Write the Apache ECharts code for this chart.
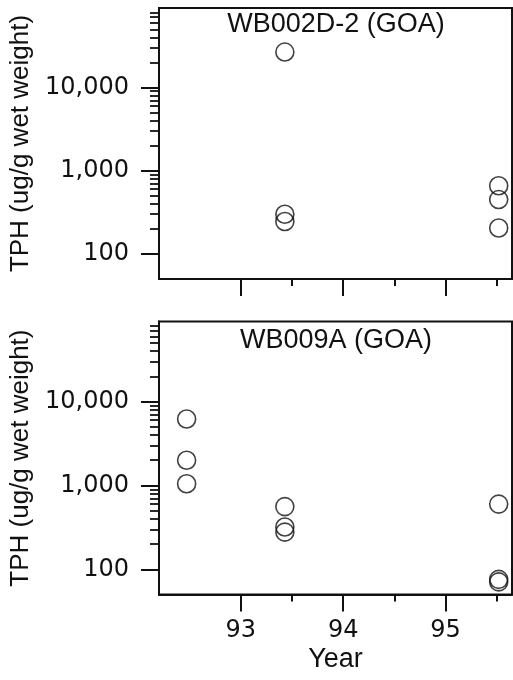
<!DOCTYPE html>
<html>
<head>
<meta charset="utf-8">
<style>
  html, body { margin: 0; padding: 0; background: #fff; }
  #chart { width: 513px; height: 680px; }
</style>
<script src="https://cdn.jsdelivr.net/npm/echarts@6/dist/echarts.min.js"></script>
</head>
<body>
<div id="chart"></div>
<script>
// ---- data ----
const panelTitles = ['WB002D-2 (GOA)', 'WB009A (GOA)'];
const yAxisName = 'TPH (ug/g wet weight)';
const xAxisName = 'Year';
const yTickValues = [100, 1000, 10000];
const yTickLabels = ['100', '1,000', '10,000'];
const yMinorTickValues = [200, 300, 400, 500, 600, 700, 800, 900,
  2000, 3000, 4000, 5000, 6000, 7000, 8000, 9000, 20000, 30000, 40000, 50000, 60000, 70000, 80000];
const xTickValues = [93, 94, 95];
const xTickLabels = ['93', '94', '95'];
const xMinorTickValues = [93.5, 94.5, 95.5];

// panel 1: WB002D-2
const p1Years = [93.43, 93.43, 93.43, 95.52, 95.52, 95.52];
const p1TPH = [26600, 300, 245, 660, 450, 205];
// panel 2: WB009A
const p2Years = [92.47, 92.47, 92.47, 93.43, 93.43, 93.43, 95.52, 95.52, 95.52];
const p2TPH = [6200, 2000, 1050, 560, 320, 278, 600, 76, 71];

// ---- chart ----
const ink = '#111111';
const font = 'Liberation Sans, Arial, Helvetica, sans-serif';
const tickFont = 'DejaVu Sans, sans-serif';
const grids = [
  { left: 159, width: 353, top: 8, height: 271 },
  { left: 159, width: 353, top: 321.6, height: 273 }
];
const xMin = 92.2, xMax = 95.65;
const yMin = 50, yMax = 90000;

const option = {
  animation: false,
  backgroundColor: '#fff',
  title: [
    { text: panelTitles[0], left: 336, top: 11, textAlign: 'center', padding: 0,
      textStyle: { fontSize: 27, fontWeight: 'normal', color: ink, fontFamily: font } },
    { text: panelTitles[1], left: 336, top: 327, textAlign: 'center', padding: 0,
      textStyle: { fontSize: 27, fontWeight: 'normal', color: ink, fontFamily: font } }
  ],
  grid: grids.map(g => Object.assign({ show: true, borderColor: ink, borderWidth: 2, containLabel: false }, g)),
  xAxis: [],
  yAxis: [],
  series: []
};

const panels = [[p1Years, p1TPH], [p2Years, p2TPH]];
panels.forEach((p, i) => {
  const showX = i === 1;
  option.xAxis.push({
    type: 'value', gridIndex: i, position: 'bottom', min: xMin, max: xMax,
    splitLine: { show: false },
    axisLine: { show: true, lineStyle: { color: ink, width: 2 } },
    axisTick: { show: true, inside: false, length: 17, customValues: xTickValues, lineStyle: { color: ink, width: 2 } },
    axisLabel: { show: showX, customValues: xTickValues, margin: 24, fontSize: 24, color: ink, fontFamily: tickFont,
      formatter: v => xTickLabels[xTickValues.indexOf(v)] },
    name: showX ? xAxisName : '', nameLocation: 'middle', nameGap: 51,
    nameTextStyle: { fontSize: 27, color: ink, fontFamily: font }
  });
  option.xAxis.push({
    type: 'value', gridIndex: i, position: 'bottom', min: xMin, max: xMax,
    splitLine: { show: false },
    axisLine: { show: false },
    axisTick: { show: true, length: 7, customValues: xMinorTickValues, lineStyle: { color: ink, width: 2 } },
    axisLabel: { show: false }
  });
  option.yAxis.push({
    type: 'log', logBase: 10, gridIndex: i, position: 'left', min: yMin, max: yMax,
    splitLine: { show: false },
    axisLine: { show: true, lineStyle: { color: ink, width: 2 } },
    axisTick: { show: true, length: 18, customValues: yTickValues, lineStyle: { color: ink, width: 2 } },
    axisLabel: { show: true, customValues: yTickValues, margin: 30, fontSize: 24, color: ink, fontFamily: tickFont,
      formatter: v => yTickLabels[yTickValues.indexOf(v)] },
    name: yAxisName, nameLocation: 'middle', nameGap: 115, nameRotate: 90,
    nameTextStyle: { fontSize: 26, color: ink, fontFamily: font }
  });
  option.yAxis.push({
    type: 'log', logBase: 10, gridIndex: i, position: 'left', min: yMin, max: yMax,
    splitLine: { show: false },
    axisLine: { show: false },
    axisTick: { show: true, length: 9, customValues: yMinorTickValues, lineStyle: { color: ink, width: 1.8 } },
    axisLabel: { show: false }
  });
  option.series.push({
    type: 'scatter', xAxisIndex: i * 2, yAxisIndex: i * 2,
    data: p[0].map((x, k) => [x, p[1][k]]),
    symbol: 'circle', symbolSize: 18,
    itemStyle: { color: 'rgba(0,0,0,0)', borderColor: ink, borderWidth: 1.6 },
    emphasis: { disabled: true }
  });
});

const chart = echarts.init(document.getElementById('chart'), null, { renderer: 'canvas' });
chart.setOption(option);
</script>
</body>
</html>
